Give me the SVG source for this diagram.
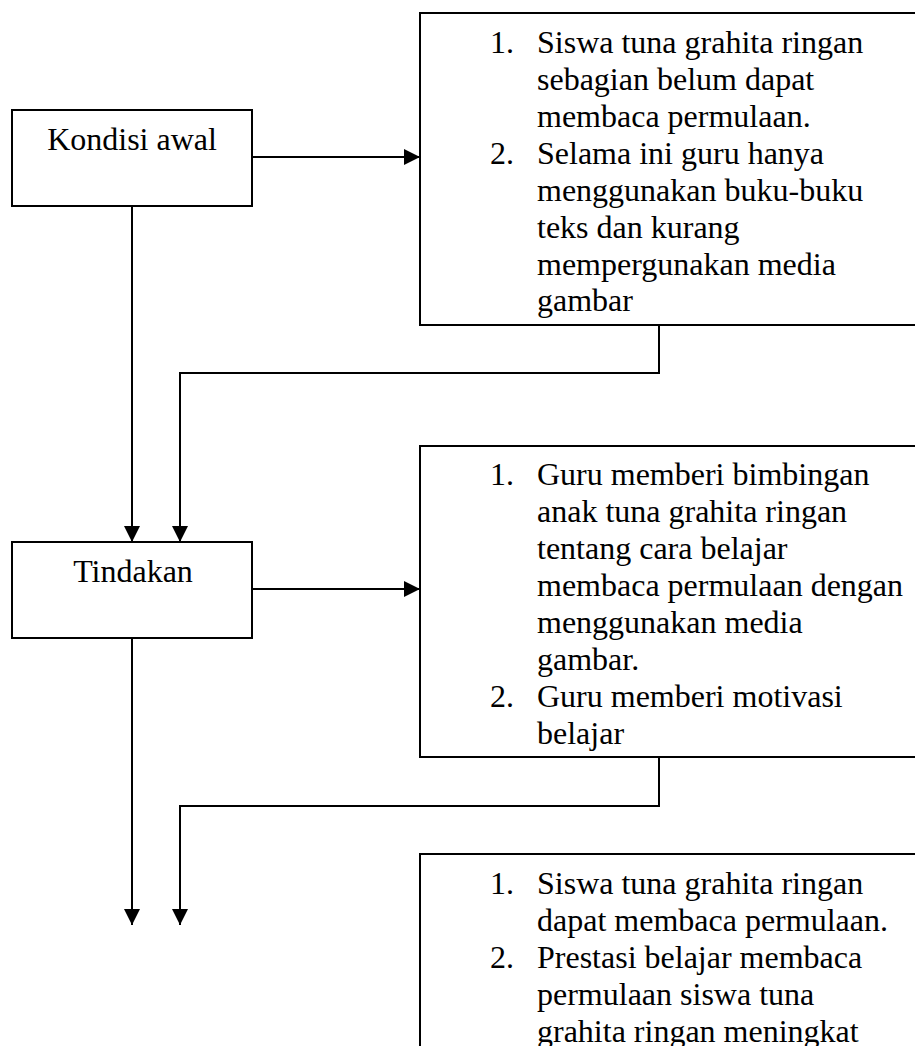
<svg xmlns="http://www.w3.org/2000/svg" width="915" height="1046" viewBox="0 0 915 1046">
<style>
.box{fill:#fff;stroke:#000;stroke-width:2}
.t{font-family:"Liberation Serif","Times New Roman",serif;font-size:32px;fill:#000}
.c{fill:none;stroke:#000;stroke-width:2}
</style>
<defs>
<marker id="ah" markerUnits="userSpaceOnUse" markerWidth="16" markerHeight="16" refX="16" refY="8" orient="auto">
<path d="M0,0 L16,8 L0,16 z" fill="#000"/>
</marker>
</defs>
<rect width="915" height="1046" fill="#fff"/>
<g id="kondisi">
<rect class="box" x="12" y="110" width="240" height="96"/>
<text class="t" x="132" y="150" text-anchor="middle">Kondisi awal</text>
</g>
<g id="box1">
<rect class="box" x="420" y="13" width="510" height="312"/>
<text class="t" x="490" y="53">1.</text>
<text class="t" x="537" y="53">Siswa tuna grahita ringan</text>
<text class="t" x="537" y="90">sebagian belum dapat</text>
<text class="t" x="537" y="127">membaca permulaan.</text>
<text class="t" x="490" y="164">2.</text>
<text class="t" x="537" y="164">Selama ini guru hanya</text>
<text class="t" x="537" y="201">menggunakan buku-buku</text>
<text class="t" x="537" y="238">teks dan kurang</text>
<text class="t" x="537" y="275">mempergunakan media</text>
<text class="t" x="537" y="311">gambar</text>
</g>
<g id="tindakan">
<rect class="box" x="12" y="542" width="240" height="96"/>
<text class="t" x="133" y="582" text-anchor="middle">Tindakan</text>
</g>
<g id="box2">
<rect class="box" x="420" y="446" width="510" height="311"/>
<text class="t" x="490" y="485">1.</text>
<text class="t" x="537" y="485">Guru memberi bimbingan</text>
<text class="t" x="537" y="522">anak tuna grahita ringan</text>
<text class="t" x="537" y="559">tentang cara belajar</text>
<text class="t" x="537" y="596">membaca permulaan dengan</text>
<text class="t" x="537" y="633">menggunakan media</text>
<text class="t" x="537" y="670">gambar.</text>
<text class="t" x="490" y="707">2.</text>
<text class="t" x="537" y="707">Guru memberi motivasi</text>
<text class="t" x="537" y="744">belajar</text>
</g>
<g id="box3">
<rect class="box" x="420" y="854" width="510" height="260"/>
<text class="t" x="490" y="894">1.</text>
<text class="t" x="537" y="894">Siswa tuna grahita ringan</text>
<text class="t" x="537" y="931">dapat membaca permulaan.</text>
<text class="t" x="490" y="968">2.</text>
<text class="t" x="537" y="968">Prestasi belajar membaca</text>
<text class="t" x="537" y="1005">permulaan siswa tuna</text>
<text class="t" x="537" y="1042">grahita ringan meningkat</text>
</g>
<g id="connectors">
<path class="c" d="M252,157 H420" marker-end="url(#ah)"/>
<path class="c" d="M132,206 V542" marker-end="url(#ah)"/>
<path class="c" d="M659,325 V373 H180 V542" marker-end="url(#ah)"/>
<path class="c" d="M252,589 H420" marker-end="url(#ah)"/>
<path class="c" d="M132,638 V925" marker-end="url(#ah)"/>
<path class="c" d="M659,757 V806 H180 V925" marker-end="url(#ah)"/>
</g>
</svg>
